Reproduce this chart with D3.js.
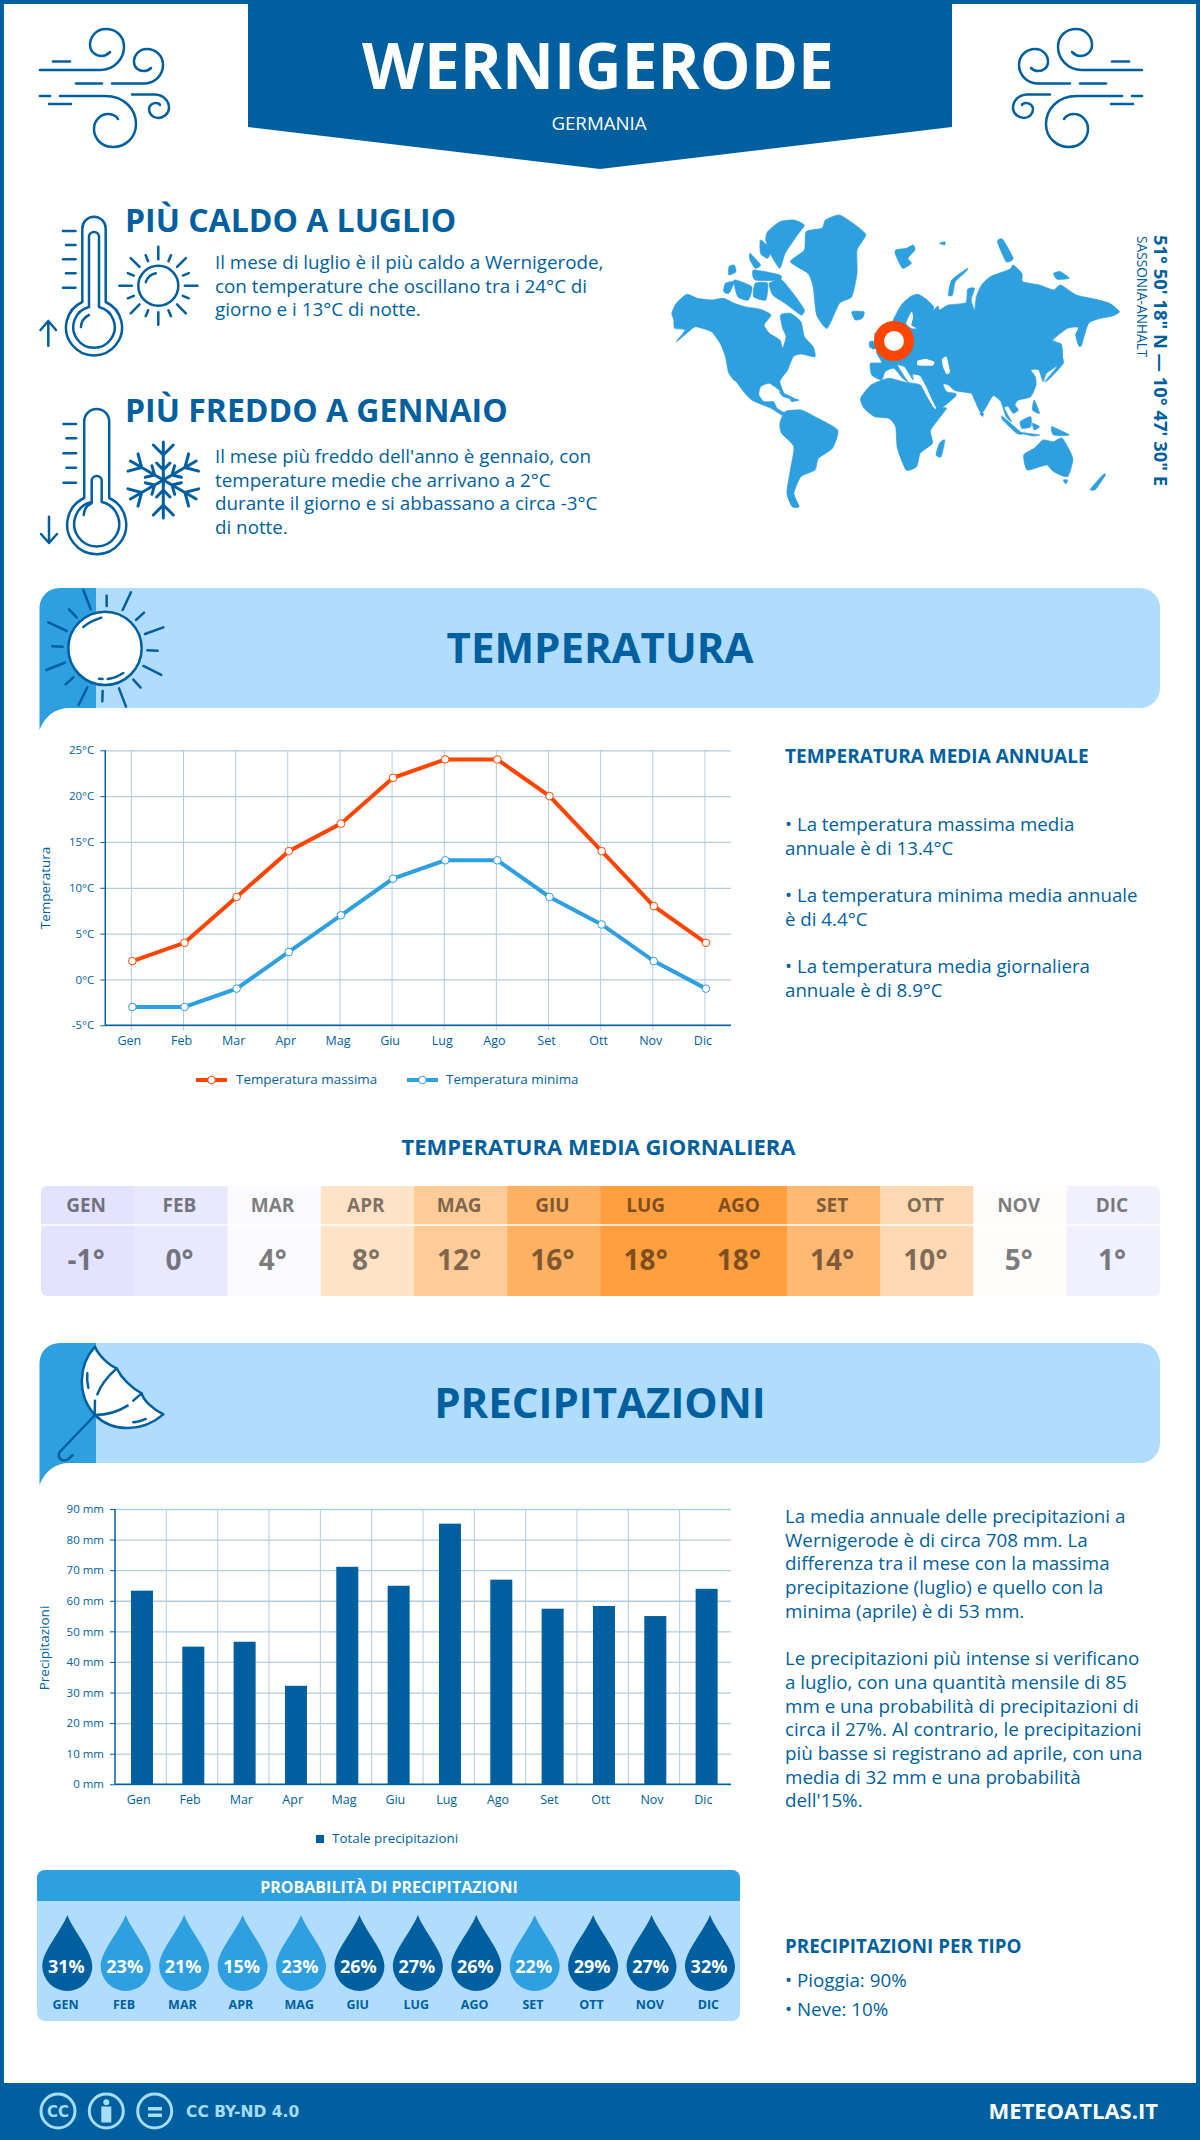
<!DOCTYPE html>
<html>
<head>
<meta charset="utf-8">
<script src="https://d3js.org/d3.v7.min.js"></script>
<style>
  body { margin: 0; background: #fff; }
  svg { display: block; }
  text { font-family: "Open Sans", sans-serif; }
</style>
</head>
<body>
<div id="chart"></div>
<script>
const months = ["Gen","Feb","Mar","Apr","Mag","Giu","Lug","Ago","Set","Ott","Nov","Dic"];
const tempMax = [2,4,9,14,17,22,24,24,20,14,8,4];
const tempMin = [-3,-3,-1,3,7,11,13,13,9,6,2,-1];
const tempTicks = [-5,0,5,10,15,20,25];
const tempDaily = [-1,0,4,8,12,16,18,18,14,10,5,1];
const tempColors = ["#e3e3ff","#e8e8ff","#fbfbff","#ffe3c8","#ffcc99","#ffb163","#ff9f40","#ff9f40","#ffb973","#ffd9b3","#fffdfb","#f0f0ff"];
const rain = [63.3,45,46.6,32.2,71.1,64.9,85.2,66.9,57.4,58.3,55,63.9];
const rainTicks = [0,10,20,30,40,50,60,70,80,90];
const rainProb = [31,23,21,15,23,26,27,26,22,29,27,32];

const hotText = ["Il mese di luglio è il più caldo a Wernigerode,","con temperature che oscillano tra i 24°C di","giorno e i 13°C di notte."];
const coldText = ["Il mese più freddo dell'anno è gennaio, con","temperature medie che arrivano a 2°C","durante il giorno e si abbassano a circa -3°C","di notte."];
const tempNotes = [["• La temperatura massima media","annuale è di 13.4°C"],["• La temperatura minima media annuale","è di 4.4°C"],["• La temperatura media giornaliera","annuale è di 8.9°C"]];
const rainNotes = ["La media annuale delle precipitazioni a","Wernigerode è di circa 708 mm. La","differenza tra il mese con la massima","precipitazione (luglio) e quello con la","minima (aprile) è di 53 mm.","","Le precipitazioni più intense si verificano","a luglio, con una quantità mensile di 85","mm e una probabilità di precipitazioni di","circa il 27%. Al contrario, le precipitazioni","più basse si registrano ad aprile, con una","media di 32 mm e una probabilità","dell'15%."];

// map outlines, traced by hand
const land = [
  [[62,340],[75,310],[105,283],[135,295],[175,300],[210,295],[240,310],[270,320],[300,325],[320,330],[345,345],[325,375],[340,400],[370,420],[378,445],[388,410],[378,385],[372,345],[400,340],[430,365],[440,410],[465,440],[470,470],[430,462],[408,470],[392,510],[370,545],[385,590],[370,572],[340,550],[315,560],[310,585],[325,605],[352,605],[362,625],[385,640],[375,645],[345,625],[290,600],[255,560],[225,520],[215,470],[200,430],[175,395],[130,380],[110,395],[75,425],[100,390],[70,385],[68,360]],
  [[385,635],[430,630],[470,650],[535,690],[520,745],[480,775],[470,810],[430,830],[410,880],[425,920],[405,920],[390,880],[400,810],[410,740],[375,700],[370,670]],
  [[400,185],[440,150],[445,95],[490,85],[500,60],[540,45],[585,75],[615,105],[590,150],[590,220],[575,290],[540,310],[505,385],[475,345],[465,260],[450,220]],
  [[335,95],[370,65],[410,60],[440,75],[420,105],[385,160],[370,205],[345,165],[330,120]],
  [[340,250],[375,240],[415,290],[440,330],[430,345],[385,310],[350,285]],
  [[215,250],[240,245],[225,280],[210,275]],[[295,210],[370,225],[370,240],[300,240]],[[225,200],[240,195],[245,215],[225,225]],
  [[315,120],[345,150],[335,175],[315,160]],[[285,160],[315,195],[300,205],[285,180]],[[240,240],[290,260],[280,300],[250,290]],[[300,250],[335,250],[330,300],[295,290]],
  [[575,335],[610,335],[605,355],[585,360]],
  [[700,150],[730,145],[750,135],[755,150],[735,175],[745,190],[720,205],[700,165]],
  [[850,285],[860,240],[905,205],[900,215],[870,245],[862,285]],
  [[990,125],[1005,118],[1035,175],[1015,185]],[[825,130],[840,125],[840,135]],
  [[690,368],[705,335],[720,310],[745,288],[765,283],[790,300],[808,320],[805,335],[790,352],[820,318],[825,330],[850,315],[900,308],[905,268],[925,265],[915,300],[925,330],[930,290],[945,255],[970,230],[1025,208],[1035,195],[1060,220],[1062,245],[1110,255],[1150,270],[1170,255],[1215,285],[1270,298],[1310,310],[1338,335],[1318,348],[1285,355],[1250,370],[1225,440],[1213,405],[1222,382],[1190,385],[1148,420],[1172,432],[1176,465],[1170,490],[1130,520],[1120,545],[1108,510],[1085,510],[1098,530],[1100,555],[1085,590],[1050,600],[1040,615],[1050,630],[1035,640],[1020,618],[1010,625],[1030,665],[1015,650],[1000,605],[985,590],[975,590],[945,640],[925,600],[915,580],[870,572],[850,555],[835,552],[845,575],[870,580],[870,590],[830,625],[815,625],[790,565],[770,527],[748,522],[745,508],[750,540],[738,520],[725,500],[705,495],[725,530],[735,545],[720,535],[695,505],[670,515],[660,540],[632,525],[628,490],[660,488],[645,455],[670,435],[670,400],[690,395]],
  [[640,400],[650,405],[652,440],[632,447],[642,425]],[[626,425],[638,425],[638,440],[626,442]],
  [[600,595],[630,555],[680,535],[720,545],[770,555],[790,590],[815,625],[845,625],[800,690],[805,730],[770,760],[760,800],[730,810],[705,745],[700,680],[680,655],[640,650],[610,625]],
  [[825,730],[840,720],[830,770],[815,765]],
  [[1065,765],[1095,745],[1120,720],[1150,725],[1175,715],[1205,775],[1190,830],[1150,815],[1130,795],[1075,810]],
  [[1255,868],[1290,825],[1298,825],[1270,868]],[[1178,840],[1190,840],[1185,852]],
  [[1005,650],[1060,700],[1045,700],[1005,660]],[[1040,695],[1110,705],[1090,708]],[[1055,665],[1085,650],[1085,680],[1060,685]],[[1090,670],[1110,680],[1095,690]],[[1145,680],[1195,705],[1150,705]],[[1095,600],[1110,640],[1090,630]],
  [[1125,545],[1160,500],[1170,460],[1178,490],[1140,535]],[[1222,370],[1245,368],[1228,440]],
  [[370,575],[420,600],[380,590]],[[400,598],[425,600],[405,605]],[[940,640],[950,640],[948,650]],
  [[1150,220],[1170,215],[1195,235],[1160,238]]
];
const seas = [
  [[762,482],[785,477],[810,485],[805,497],[775,497],[762,495]],
  [[832,478],[845,470],[855,515],[845,522],[835,500]],
  [[745,335],[730,370],[745,385],[760,385],[745,375],[750,350]],
  [[245,545],[270,585],[262,585],[240,550]],
  [[780,555],[815,622],[808,622],[775,560]]
];

const bigRays = [[190,30,212,87],[260,47,260,78],[333,37,308,90],[372,98,348,120],[430,142,375,162],[382,211,413,212],[424,285,370,258],[362,323,340,299],[318,380,297,325],[248,333,247,364],[176,375,202,322],[137,313,160,292],[79,270,135,248],[97,199,128,200],[85,127,140,153],[147,88,170,112]];

const dark = "#005f9e", mid = "#2e9fdf", light = "#b0dcff", orange = "#ff4500", grid = "#b3cde0";

const svg = d3.select("#chart").append("svg").attr("width", 1200).attr("height", 2140);

function label(parent, x, y, str, size, weight, fill, anchor) {
  return parent.append("text").attr("x", x).attr("y", y).text(str)
    .attr("font-size", size).attr("font-weight", weight || 400)
    .attr("fill", fill || dark).attr("text-anchor", anchor || "start");
}
function stroke(parent, d, w, col) {
  return parent.append("path").attr("d", d).attr("fill", "none")
    .attr("stroke", col || dark).attr("stroke-width", w || 2.5)
    .attr("stroke-linecap", "round").attr("stroke-linejoin", "round");
}

// frame and header
svg.append("rect").attr("x", 2).attr("y", 2).attr("width", 1196).attr("height", 2130).attr("fill", "none").attr("stroke", dark).attr("stroke-width", 4);
svg.append("path").attr("d", "M248 0H952V127L600 169L248 127Z").attr("fill", dark);
label(svg, 598, 89, "WERNIGERODE", 64, 700, "#fff", "middle");
label(svg, 599, 130, "GERMANIA", 18.7, 400, "#fff", "middle");

function wind(g) {
  stroke(g, "M40 70H100C115 70 124 58 124 47C124 35 115 29 106 29C96 29 90 37 90 45C90 52 96 56 102 56C106 56 108 54 110 52");
  stroke(g, "M53 61.5H70");
  stroke(g, "M112 83.5H145C155 83 163 75 163 65C163 55 155 49 147 49C139 49 134 55 134 62C134 68 139 71 144 71C147 71 149 70 151 68");
  stroke(g, "M76 83.5H102");
  stroke(g, "M60 96H105C125 96 136 110 136 124C136 138 125 147 113 147C102 147 94 139 94 129C94 120 101 114 108 114C112 114 116 116 118 119");
  stroke(g, "M40 96H50M49 104H71");
  stroke(g, "M132 94.5H155C164 95 169 101 169 108C169 114 163 118 158 118C153 118 149 114 149 109C149 105 153 103 156 103C158 103 160 104 160 105");
}
wind(svg.append("g"));
wind(svg.append("g").attr("transform", "translate(1182,0) scale(-1,1)"));

// hot / cold blocks
function thermometer(o) {
  const g = svg.append("g");
  const c = o.cx;
  stroke(g, `M${c-o.hw} ${o.jo}V${o.top+o.hw}A${o.hw} ${o.hw} 0 0 1 ${c+o.hw} ${o.top+o.hw}V${o.jo}A${o.ro} ${o.ro} 0 1 1 ${c-o.hw} ${o.jo}`);
  stroke(g, `M${c-5} ${o.ji}V${o.itop+5}A5 5 0 0 1 ${c+5} ${o.itop+5}V${o.ji}A${o.ri} ${o.ri} 0 1 1 ${c-5} ${o.ji}`);
  stroke(g, `M${c-13} ${o.by}A14 14 0 0 1 ${c-5} ${o.by-12}`);
  o.ticks.forEach((y, i) => stroke(g, `M${i % 2 ? o.tx + 3 : o.tx} ${y}H${o.tx + 12.5}`));
  stroke(g, o.arrow);
}
thermometer({cx:94, hw:11.7, top:216.7, jo:302, ro:28, ji:307, itop:232, ri:20.7, by:327,
  ticks:[231,245,259.3,273.3,287.7], tx:63, arrow:"M48.3 345.7V321M40.5 330L48.3 321L56 330"});
thermometer({cx:96.7, hw:12.5, top:409, jo:498, ro:29.5, ji:502, itop:476, ri:22.5, by:515,
  ticks:[424,438.3,453.3,467.7,482.7], tx:63.5, arrow:"M49 516.7V543M41 534L49 543L57 534"});

const smallSun = svg.append("g").attr("transform", "translate(158.3,285.7)");
smallSun.append("circle").attr("r", 20).attr("fill", "none").attr("stroke", dark).attr("stroke-width", 2.5);
stroke(smallSun, "M-12.5 -3.5A13 13 0 0 1 -2.5 -12.5");
d3.range(16).forEach(i => {
  const a = i * Math.PI / 8, r1 = i % 2 ? 33 : 39;
  stroke(smallSun, `M${26.5*Math.cos(a)} ${26.5*Math.sin(a)}L${r1*Math.cos(a)} ${r1*Math.sin(a)}`);
});

const flake = svg.append("g").attr("transform", "translate(163.3,480)");
d3.range(6).forEach(i => {
  const arm = flake.append("g").attr("transform", `rotate(${i * 60})`);
  stroke(arm, "M0 0V-38M-10 -35L0 -25L10 -35M-6.7 -17L0 -10L6.7 -17", 3);
});

label(svg, 125, 232, "PIÙ CALDO A LUGLIO", 32, 700);
hotText.forEach((t, i) => label(svg, 215, 269 + i * 23.6, t, 18.8));
label(svg, 125, 422, "PIÙ FREDDO A GENNAIO", 32, 700);
coldText.forEach((t, i) => label(svg, 215, 463 + i * 23.6, t, 18.8));

// world map
const mapG = svg.append("g").attr("transform", "translate(650,200) scale(0.3509,0.3333)");
const outline = d3.line().curve(d3.curveCardinalClosed.tension(0.45));
mapG.selectAll(".land").data(land).join("path").attr("class", "land").attr("d", outline)
  .attr("fill", mid).attr("stroke", mid).attr("stroke-width", 2).attr("stroke-linejoin", "round");
mapG.selectAll(".sea").data(seas).join("path").attr("class", "sea").attr("d", outline).attr("fill", "#fff");
svg.append("circle").attr("cx", 894).attr("cy", 341).attr("r", 15).attr("fill", "#fff").attr("stroke", orange).attr("stroke-width", 10);
label(svg, 0, 0, "51° 50' 18\" N — 10° 47' 30\" E", 18.4, 700).attr("transform", "translate(1154,235) rotate(90)");
label(svg, 0, 0, "SASSONIA-ANHALT", 13.7, 400).attr("transform", "translate(1137,236) rotate(90)");

// section banners
function banner(y0, title) {
  const g = svg.append("g").attr("transform", `translate(0,${y0})`);
  g.append("path").attr("d", "M60 0H1140A20 20 0 0 1 1160 20V100A20 20 0 0 1 1140 120H60Z").attr("fill", light);
  g.append("path").attr("d", "M39.5 142V20A20 20 0 0 1 59.5 0H96V120H70C55 120 45 128 39.5 142Z").attr("fill", mid);
  label(g, 600, 75, title, 42, 700, dark, "middle");
  return g;
}
const sunBanner = banner(588, "TEMPERATURA");
const sunG = sunBanner.append("g").attr("transform", "translate(20,-8) scale(0.3333)");
sunG.append("circle").attr("cx", 255).attr("cy", 205).attr("r", 110).attr("fill", "#fff").attr("stroke", dark).attr("stroke-width", 7.5);
stroke(sunG, "M190 141C205 128 225 119 244 113M263 297C280 295 296 288 310 279M237 296L248 297", 7.5);
bigRays.forEach(r => stroke(sunG, `M${r[0]} ${r[1]}L${r[2]} ${r[3]}`, 7.5));

const rainBanner = banner(1343, "PRECIPITAZIONI");
const umbrella = rainBanner.append("g").attr("transform", "translate(20,-8) scale(0.3333)");
umbrella.append("path").attr("d", "M225 35C175 90 170 180 225 240C280 295 370 290 430 238C395 220 370 195 365 175C335 160 305 130 290 100C265 90 235 60 225 35Z")
  .attr("fill", "#fff").attr("stroke", dark).attr("stroke-width", 7.5).attr("stroke-linejoin", "round");
stroke(umbrella, "M290 100C262 125 242 150 232 178M225 197L224 240M225 240C260 240 295 230 323 212M340 197L365 175M202 115C200 130 202 145 205 158M340 262C352 262 365 258 377 252M225 240L125 345C105 365 125 385 145 372L158 360", 7.5);

// axes styling shared by both charts
function styleTicks(sel, size) {
  sel.selectAll("text").attr("fill", dark).attr("font-size", size);
  sel.select(".domain").remove();
}

// temperature chart
const xT = d3.scaleBand().domain(months).range([105.3, 731]);
const yT = d3.scaleLinear().domain([-5, 25]).range([1025.3, 750.3]);
const tempG = svg.append("g");
const px = d => xT(d) + xT.bandwidth() / 2 + 1;

tempG.append("g").attr("transform", "translate(105.3,0)")
  .call(d3.axisLeft(yT).tickValues(tempTicks).tickSize(-625.7).tickFormat(""))
  .call(g => g.select(".domain").remove())
  .call(g => g.selectAll("line").attr("stroke", grid).attr("stroke-width", 1.3));
tempG.append("g").attr("transform", "translate(0,1030.3)")
  .call(d3.axisBottom(xT).tickSize(-280).tickFormat(""))
  .call(g => g.select(".domain").remove())
  .call(g => g.selectAll("line").attr("stroke", grid).attr("stroke-width", 1));
tempG.append("g").attr("transform", "translate(105.3,0)")
  .call(d3.axisLeft(yT).tickValues(tempTicks).tickSize(5).tickPadding(6).tickFormat(d => d + "°C"))
  .call(g => styleTicks(g, 11.5))
  .call(g => g.selectAll("line").attr("stroke", dark));
tempG.append("g").attr("transform", "translate(0,1025.3)")
  .call(d3.axisBottom(xT).tickSize(0).tickPadding(11))
  .call(g => styleTicks(g, 12.5))
  .call(g => g.selectAll("text").attr("dx", -2));
tempG.append("line").attr("x1", 105.3).attr("x2", 105.3).attr("y1", 750.3).attr("y2", 1025.3).attr("stroke", dark).attr("stroke-width", 1.5);
tempG.append("line").attr("x1", 105.3).attr("x2", 731).attr("y1", 1025.3).attr("y2", 1025.3).attr("stroke", dark).attr("stroke-width", 1.5);
label(tempG, 0, 0, "Temperatura", 13.5, 400, dark, "middle").attr("transform", "translate(50,888) rotate(-90)");

const lineT = vals => d3.line().x((d, i) => px(months[i])).y(d => yT(d))(vals);
[[tempMax, orange], [tempMin, mid]].forEach(([vals, col]) => {
  tempG.append("path").attr("d", lineT(vals)).attr("fill", "none").attr("stroke", col).attr("stroke-width", 4);
  tempG.selectAll(null).data(vals).join("circle")
    .attr("cx", (d, i) => px(months[i])).attr("cy", d => yT(d)).attr("r", 3.8)
    .attr("fill", "#fff").attr("stroke", col).attr("stroke-width", 1);
});
[[196, orange, "Temperatura massima", 236], [407, mid, "Temperatura minima", 446]].forEach(([x, col, name, tx]) => {
  tempG.append("line").attr("x1", x).attr("x2", x + 31).attr("y1", 1080).attr("y2", 1080).attr("stroke", col).attr("stroke-width", 4);
  tempG.append("circle").attr("cx", x + 15.5).attr("cy", 1080).attr("r", 3.8).attr("fill", "#fff").attr("stroke", col);
  label(tempG, tx, 1084, name, 13.4);
});

label(svg, 785, 763, "TEMPERATURA MEDIA ANNUALE", 19, 700);
tempNotes.forEach((p, i) => p.forEach((t, j) => label(svg, 785, 831 + i * 71 + j * 24, t, 18.7)));

// daily mean temperature strip
label(svg, 598.5, 1155, "TEMPERATURA MEDIA GIORNALIERA", 22, 700, dark, "middle");
const xH = d3.scaleBand().domain(months).range([41, 1160]);
const heat = svg.append("g");
heat.append("clipPath").attr("id", "heatClip").append("rect").attr("x", 41).attr("y", 1186).attr("width", 1119).attr("height", 110).attr("rx", 6);
const cells = heat.append("g").attr("clip-path", "url(#heatClip)");
cells.selectAll("rect").data(months).join("rect")
  .attr("x", d => xH(d)).attr("y", 1186).attr("width", xH.bandwidth() + 0.5).attr("height", 110)
  .attr("fill", (d, i) => tempColors[i]);
cells.append("line").attr("x1", 41).attr("x2", 1160).attr("y1", 1225).attr("y2", 1225).attr("stroke", "#fff").attr("stroke-width", 1.5);
months.forEach((m, i) => {
  const cx = xH(m) + xH.bandwidth() / 2;
  label(heat, cx - 1.5, 1212, m.toUpperCase(), 19, 700, "#000", "middle").attr("opacity", 0.5);
  label(heat, cx - 1.5, 1270, tempDaily[i] + "°", 28, 700, "#000", "middle").attr("opacity", 0.5);
});

// precipitation chart
const xR = d3.scaleBand().domain(months).range([115, 731]);
const yR = d3.scaleLinear().domain([0, 90]).range([1784.3, 1509]);
const rainG = svg.append("g");
rainG.append("g").attr("transform", "translate(115,0)")
  .call(d3.axisLeft(yR).tickValues(rainTicks).tickSize(-616).tickFormat(""))
  .call(g => g.select(".domain").remove())
  .call(g => g.selectAll("line").attr("stroke", grid).attr("stroke-width", 1.3));
rainG.selectAll(".vgrid").data(months.slice(1)).join("line").attr("class", "vgrid")
  .attr("x1", d => xR(d)).attr("x2", d => xR(d)).attr("y1", 1509).attr("y2", 1784.3)
  .attr("stroke", grid).attr("stroke-width", 1);
rainG.selectAll(".bar").data(rain).join("rect").attr("class", "bar")
  .attr("x", (d, i) => xR(months[i]) + xR.bandwidth() / 2 + 1.3 - 11).attr("width", 22)
  .attr("y", d => yR(d)).attr("height", d => yR(0) - yR(d)).attr("fill", dark);
rainG.append("g").attr("transform", "translate(115,0)")
  .call(d3.axisLeft(yR).tickValues(rainTicks).tickSize(5).tickPadding(6).tickFormat(d => d + " mm"))
  .call(g => styleTicks(g, 11.5))
  .call(g => g.selectAll("line").attr("stroke", dark));
rainG.append("g").attr("transform", "translate(0,1784.3)")
  .call(d3.axisBottom(xR).tickSize(0).tickPadding(11))
  .call(g => styleTicks(g, 12.5))
  .call(g => g.selectAll("text").attr("dx", -2));
rainG.append("line").attr("x1", 115).attr("x2", 115).attr("y1", 1509).attr("y2", 1784.3).attr("stroke", dark).attr("stroke-width", 1.5);
rainG.append("line").attr("x1", 115).attr("x2", 731).attr("y1", 1784.3).attr("y2", 1784.3).attr("stroke", dark).attr("stroke-width", 1.5);
label(rainG, 0, 0, "Precipitazioni", 13.5, 400, dark, "middle").attr("transform", "translate(49,1648) rotate(-90)");
rainG.append("rect").attr("x", 316).attr("y", 1835).attr("width", 8).attr("height", 8).attr("fill", dark);
label(rainG, 332, 1843, "Totale precipitazioni", 13.4);

rainNotes.forEach((t, i) => label(svg, 785, 1523 + i * 23.7, t, 18.8));

// probability block
const prob = svg.append("g");
prob.append("rect").attr("x", 37).attr("y", 1870).attr("width", 703).attr("height", 151).attr("rx", 8).attr("fill", light);
prob.append("path").attr("d", "M37 1901V1878A8 8 0 0 1 45 1870H732A8 8 0 0 1 740 1878V1901Z").attr("fill", mid);
label(prob, 389, 1893, "PROBABILITÀ DI PRECIPITAZIONI", 16, 700, "#fff", "middle");
const xP = d3.scalePoint().domain(months).range([67.3, 710]);
months.forEach((m, i) => {
  const g = prob.append("g").attr("transform", `translate(${xP(m)},1915)`);
  g.append("path").attr("d", "M0 0C6 16 25 36 25 51A25 25 0 0 1 -25 51C-25 36 -6 16 0 0Z")
    .attr("fill", rainProb[i] >= 26 ? dark : mid);
  label(g, -1, 58, rainProb[i] + "%", 18, 700, "#fff", "middle");
  label(g, -1.7, 94, m.toUpperCase(), 12.5, 700, dark, "middle");
});

label(svg, 785, 1953, "PRECIPITAZIONI PER TIPO", 18.8, 700);
label(svg, 785, 1987, "• Pioggia: 90%", 18.8);
label(svg, 785, 2016, "• Neve: 10%", 18.8);

// footer
svg.append("rect").attr("x", 0).attr("y", 2083).attr("width", 1200).attr("height", 57).attr("fill", dark);
const ccCol = "#a6dcfc";
[58, 106.3, 154.7].forEach(x => svg.append("circle").attr("cx", x).attr("cy", 2111).attr("r", 17).attr("fill", "none").attr("stroke", ccCol).attr("stroke-width", 3));
label(svg, 58, 2116.5, "CC", 15, 700, ccCol, "middle").style("font-family", "'DejaVu Sans'");
svg.append("circle").attr("cx", 106.3).attr("cy", 2102.3).attr("r", 3).attr("fill", ccCol);
svg.append("rect").attr("x", 101.3).attr("y", 2106.5).attr("width", 10).attr("height", 16).attr("fill", ccCol);
svg.append("rect").attr("x", 148).attr("y", 2107).attr("width", 14).attr("height", 3.5).attr("fill", ccCol);
svg.append("rect").attr("x", 148).attr("y", 2113.5).attr("width", 14).attr("height", 3.5).attr("fill", ccCol);
label(svg, 186, 2117, "CC BY-ND 4.0", 15.5, 700, ccCol).style("font-family", "'DejaVu Sans'");
label(svg, 1158, 2119, "METEOATLAS.IT", 22, 700, "#fff", "end");
</script>
</body>
</html>
